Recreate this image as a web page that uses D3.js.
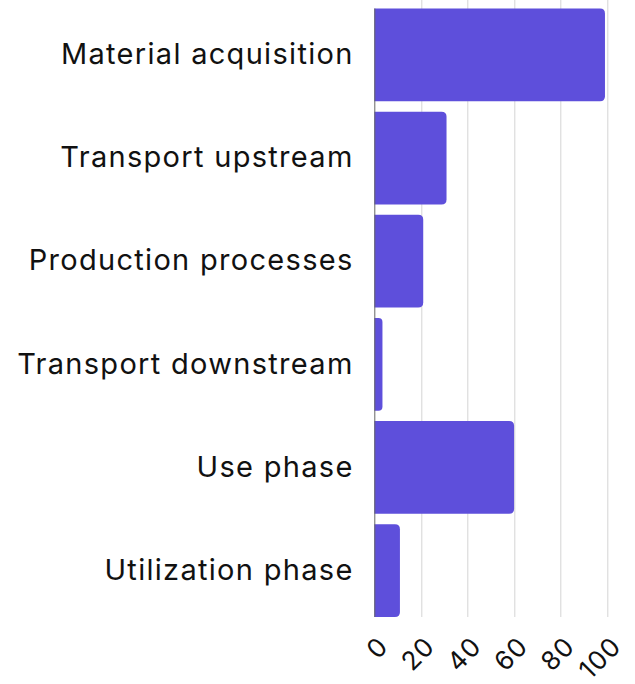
<!DOCTYPE html>
<html>
<head>
<meta charset="utf-8">
<script src="https://cdn.jsdelivr.net/npm/d3@7"></script>
<style>
  html, body { margin: 0; padding: 0; background: #fff; }
  svg text { font-family: Inter, "Noto Sans", sans-serif; fill: #111; }
</style>
</head>
<body>
<div class="bar-chart"></div>
<script>
// chart data
var categories = ['Material acquisition', 'Transport upstream', 'Production processes',
  'Transport downstream', 'Use phase', 'Utilization phase'];
var values = [99, 31, 21, 3.5, 60, 11];
var tickValues = [0, 20, 40, 60, 80, 100];

var width = 635, height = 684;
var margins = { top: 8.5, right: 27.7, bottom: 67, left: 374.3 };
var innerW = width - margins.left - margins.right;
var innerH = height - margins.top - margins.bottom;

var x = d3.scaleLinear().domain([0, 100]).range([0, innerW]);
var y = d3.scaleBand().domain(categories).range([0, innerH]).paddingInner(0.1).paddingOuter(0);

var svg = d3.select('.bar-chart').append('svg')
  .attr('width', width)
  .attr('height', height);

var graph = svg.append('g')
  .attr('transform', 'translate(' + margins.left + ',' + margins.top + ')');

// vertical grid lines
graph.append('g').attr('class', 'grid')
  .selectAll('line')
  .data(tickValues.slice(1))
  .enter().append('line')
  .attr('x1', function(d) { return Math.round(x(d)) + 0.5; })
  .attr('x2', function(d) { return Math.round(x(d)) + 0.5; })
  .attr('y1', -margins.top)
  .attr('y2', innerH)
  .attr('stroke', '#d4d4d4')
  .attr('stroke-width', 1);

// bars: square on the left, rounded on the right
var r = 5;
function barPath(d, i) {
  var w = x(values[i]), top = y(d), h = y.bandwidth();
  var rr = Math.min(r, w / 2);
  return 'M0,' + top +
    'H' + (w - rr) +
    'Q' + w + ',' + top + ' ' + w + ',' + (top + rr) +
    'V' + (top + h - rr) +
    'Q' + w + ',' + (top + h) + ' ' + (w - rr) + ',' + (top + h) +
    'H0Z';
}

graph.append('g').attr('class', 'bars')
  .selectAll('path')
  .data(categories)
  .enter().append('path')
  .attr('d', barPath)
  .attr('fill', '#5e4fdb');

// zero line
graph.append('line')
  .attr('x1', 0.5).attr('x2', 0.5)
  .attr('y1', 0).attr('y2', innerH)
  .attr('stroke', '#666')
  .attr('stroke-width', 1);

// category labels
var yAxis = d3.axisLeft(y).tickSize(0).tickPadding(22);
var yg = graph.append('g').attr('class', 'y-axis').call(yAxis);
yg.select('.domain').remove();
yg.selectAll('text')
  .style('font-size', '29px')
  .style('letter-spacing', '1.3px')
  .attr('dx', '1.3px')
  .attr('fill', '#111');

// x tick labels, rotated
var xAxis = d3.axisBottom(x).tickValues(tickValues).tickSize(0).tickFormat(d3.format('d'));
var xg = graph.append('g').attr('class', 'x-axis')
  .attr('transform', 'translate(0,' + innerH + ')')
  .call(xAxis);
xg.select('.domain').remove();
xg.selectAll('text')
  .style('font-size', '26px')
  .style('letter-spacing', '1px')
  .attr('fill', '#111')
  .attr('text-anchor', 'end')
  .attr('dy', null)
  .attr('y', 0)
  .attr('transform', 'translate(15,31) rotate(-45)');
</script>
</body>
</html>
